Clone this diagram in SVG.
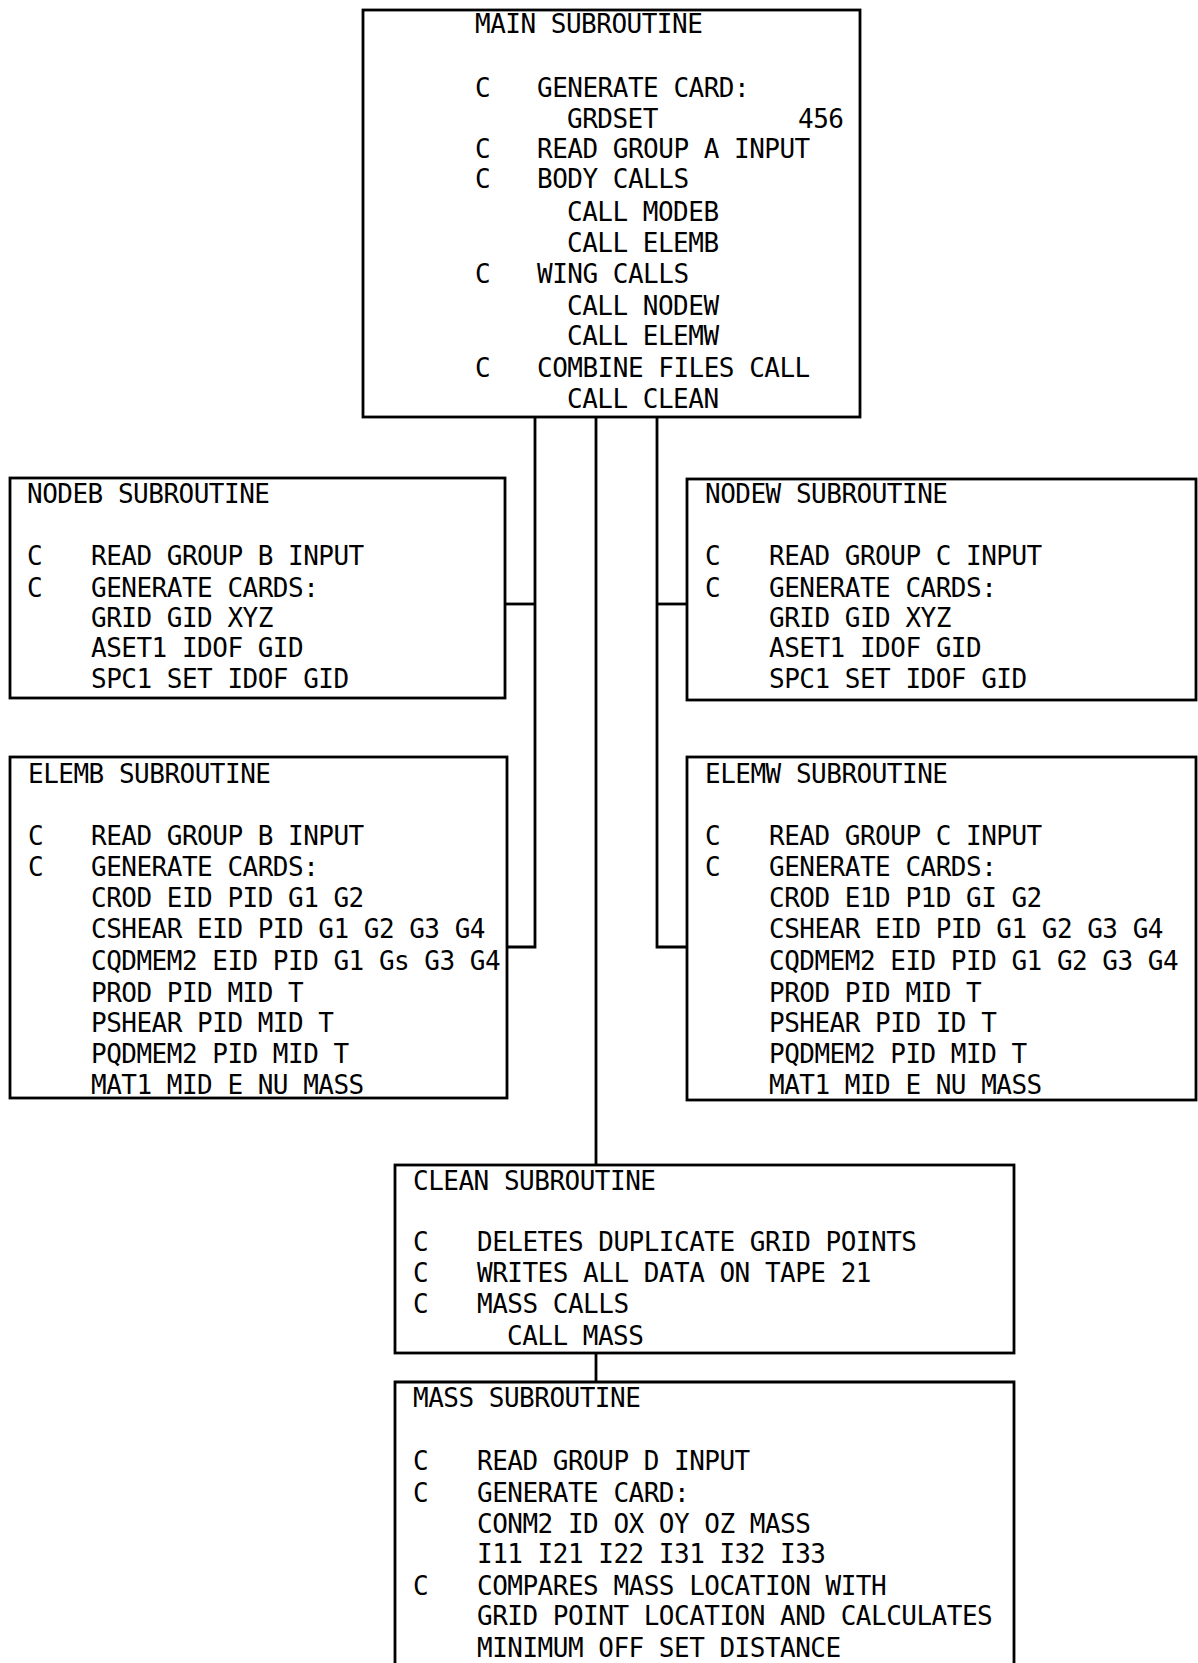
<svg xmlns="http://www.w3.org/2000/svg" width="1198" height="1663" viewBox="0 0 1198 1663">
<style>
  .box { fill: none; stroke: #000; stroke-width: 2.8; }
  .con { fill: none; stroke: #000; stroke-width: 2.8; }
  text { font-family: "DejaVu Sans Mono", "Liberation Mono", monospace; font-size: 26px; letter-spacing: -0.5px; fill: #000; }
</style>
<rect width="1198" height="1663" fill="#fff"/>
<g id="connectors">
  <path class="con" d="M535 417 V947 H507"/>
  <path class="con" d="M505 604 H535"/>
  <path class="con" d="M596 417 V1165"/>
  <path class="con" d="M657 417 V947 H687"/>
  <path class="con" d="M657 604 H687"/>
  <path class="con" d="M596 1353 V1382"/>
</g>
<g id="main">
  <rect class="box" x="363" y="10" width="497" height="407"/>
  <text x="475" y="33">MAIN SUBROUTINE</text>
  <text x="475" y="97">C</text><text x="537" y="97">GENERATE CARD:</text>
  <text x="567" y="128">GRDSET</text><text x="798" y="128">456</text>
  <text x="475" y="158">C</text><text x="537" y="158">READ GROUP A INPUT</text>
  <text x="475" y="188">C</text><text x="537" y="188">BODY CALLS</text>
  <text x="567" y="221">CALL MODEB</text>
  <text x="567" y="252">CALL ELEMB</text>
  <text x="475" y="283">C</text><text x="537" y="283">WING CALLS</text>
  <text x="567" y="315">CALL NODEW</text>
  <text x="567" y="345">CALL ELEMW</text>
  <text x="475" y="377">C</text><text x="537" y="377">COMBINE FILES CALL</text>
  <text x="567" y="408">CALL CLEAN</text>
</g>
<g id="nodeb">
  <rect class="box" x="10" y="478" width="495" height="220"/>
  <text x="27" y="503">NODEB SUBROUTINE</text>
  <text x="27" y="565">C</text><text x="91" y="565">READ GROUP B INPUT</text>
  <text x="27" y="597">C</text><text x="91" y="597">GENERATE CARDS:</text>
  <text x="91" y="627">GRID GID XYZ</text>
  <text x="91" y="657">ASET1 IDOF GID</text>
  <text x="91" y="688">SPC1 SET IDOF GID</text>
</g>
<g id="nodew">
  <rect class="box" x="687" y="479" width="509" height="221"/>
  <text x="705" y="503">NODEW SUBROUTINE</text>
  <text x="705" y="565">C</text><text x="769" y="565">READ GROUP C INPUT</text>
  <text x="705" y="597">C</text><text x="769" y="597">GENERATE CARDS:</text>
  <text x="769" y="627">GRID GID XYZ</text>
  <text x="769" y="657">ASET1 IDOF GID</text>
  <text x="769" y="688">SPC1 SET IDOF GID</text>
</g>
<g id="elemb">
  <rect class="box" x="10" y="757" width="497" height="341"/>
  <text x="28" y="783">ELEMB SUBROUTINE</text>
  <text x="28" y="845">C</text><text x="91" y="845">READ GROUP B INPUT</text>
  <text x="28" y="876">C</text><text x="91" y="876">GENERATE CARDS:</text>
  <text x="91" y="907">CROD EID PID G1 G2</text>
  <text x="91" y="938">CSHEAR EID PID G1 G2 G3 G4</text>
  <text x="91" y="970">CQDMEM2 EID PID G1 Gs G3 G4</text>
  <text x="91" y="1002">PROD PID MID T</text>
  <text x="91" y="1032">PSHEAR PID MID T</text>
  <text x="91" y="1063">PQDMEM2 PID MID T</text>
  <text x="91" y="1094">MAT1 MID E NU MASS</text>
</g>
<g id="elemw">
  <rect class="box" x="687" y="757" width="509" height="343"/>
  <text x="705" y="783">ELEMW SUBROUTINE</text>
  <text x="705" y="845">C</text><text x="769" y="845">READ GROUP C INPUT</text>
  <text x="705" y="876">C</text><text x="769" y="876">GENERATE CARDS:</text>
  <text x="769" y="907">CROD E1D P1D GI G2</text>
  <text x="769" y="938">CSHEAR EID PID G1 G2 G3 G4</text>
  <text x="769" y="970">CQDMEM2 EID PID G1 G2 G3 G4</text>
  <text x="769" y="1002">PROD PID MID T</text>
  <text x="769" y="1032">PSHEAR PID ID T</text>
  <text x="769" y="1063">PQDMEM2 PID MID T</text>
  <text x="769" y="1094">MAT1 MID E NU MASS</text>
</g>
<g id="clean">
  <rect class="box" x="395" y="1165" width="619" height="188"/>
  <text x="413" y="1190">CLEAN SUBROUTINE</text>
  <text x="413" y="1251">C</text><text x="477" y="1251">DELETES DUPLICATE GRID POINTS</text>
  <text x="413" y="1282">C</text><text x="477" y="1282">WRITES ALL DATA ON TAPE 21</text>
  <text x="413" y="1313">C</text><text x="477" y="1313">MASS CALLS</text>
  <text x="507" y="1345">CALL MASS</text>
</g>
<g id="mass">
  <path class="box" d="M395 1670 V1382 H1014 V1670"/>
  <text x="413" y="1407">MASS SUBROUTINE</text>
  <text x="413" y="1470">C</text><text x="477" y="1470">READ GROUP D INPUT</text>
  <text x="413" y="1502">C</text><text x="477" y="1502">GENERATE CARD:</text>
  <text x="477" y="1533">CONM2 ID OX OY OZ MASS</text>
  <text x="477" y="1563">I11 I21 I22 I31 I32 I33</text>
  <text x="413" y="1595">C</text><text x="477" y="1595">COMPARES MASS LOCATION WITH</text>
  <text x="477" y="1625">GRID POINT LOCATION AND CALCULATES</text>
  <text x="477" y="1657">MINIMUM OFF SET DISTANCE</text>
</g>
</svg>
